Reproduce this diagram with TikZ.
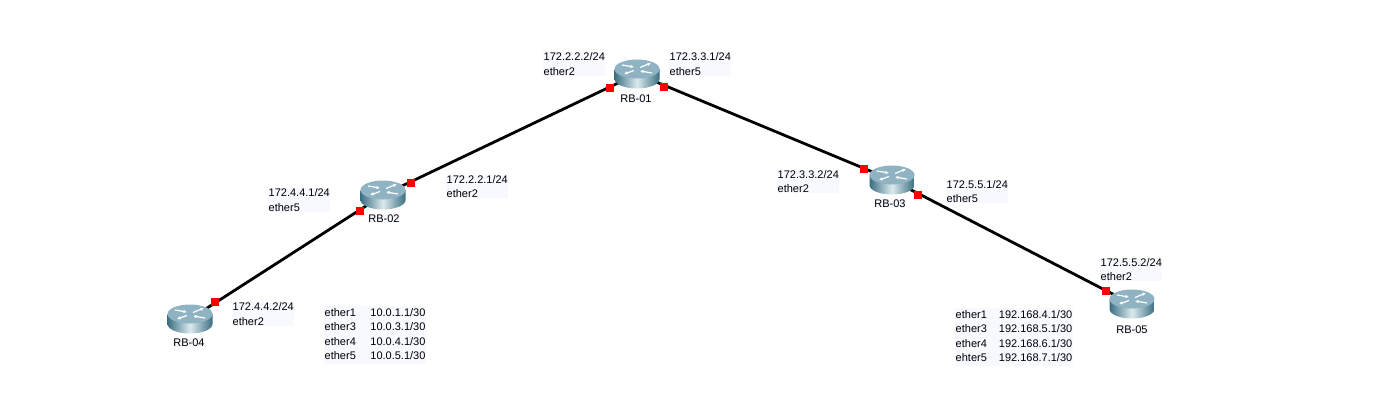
\documentclass[tikz,border=0pt]{standalone}
\usepackage{fontspec}
\setmainfont{Liberation Sans}
\usepackage{xcolor}
\usetikzlibrary{arrows.meta}
\definecolor{labelbg}{HTML}{F7F9FF}
\definecolor{routertop}{HTML}{8FB3C3}
\definecolor{routerdark}{HTML}{3A6F82}
\definecolor{routerlight}{HTML}{DCEAEE}
\tikzset{
	routerbox/.style={inner sep=0pt,minimum width=46pt,minimum height=29pt},
	port/.style={fill=red,inner sep=0pt,minimum size=7.5pt},
	link/.style={draw=black,line width=2.8pt},
	arr/.style={white,line width=1.2pt,-{Latex[length=3.5pt,width=3.5pt]}},
	addr/.style={fill=labelbg,anchor=west,align=left,inner sep=0.5pt,font=\fontsize{11}{14.4}\selectfont},
	rname/.style={fill=labelbg,inner sep=0.5pt,font=\fontsize{11}{14}\selectfont},
	pics/routericon/.style={code={
		\shade[left color=routerdark,right color=routerdark,middle color=routerlight]
			(-22.5,-5) -- (-22.5,5) arc[start angle=180,end angle=0,x radius=22.5,y radius=9.5] -- (22.5,-5) -- cycle;
		\fill[routertop] (0,-5) ellipse[x radius=22.5,y radius=9.5];
		\draw[arr] (-15,-9) -- (-3,-7);
		\draw[arr] (3,-6.5) -- (14,-11);
		\draw[arr] (-3,-3.5) -- (-13,0);
		\draw[arr] (15,-1) -- (3,-3);
	}}
}
\begin{document}
\begin{tikzpicture}[x=1pt,y=-1pt]
	\useasboundingbox (0,0) rectangle (1376,408);
	% routers
	\node[routerbox] (rb01) at (637,74) {};
	\node[routerbox] (rb02) at (383,195) {};
	\node[routerbox] (rb03) at (892,180) {};
	\node[routerbox] (rb04) at (190,319) {};
	\node[routerbox] (rb05) at (1132,304) {};
	% links
	\draw[link] (rb01.center) -- (rb02.center);
	\draw[link] (rb01.center) -- (rb03.center);
	\draw[link] (rb02.center) -- (rb04.center);
	\draw[link] (rb03.center) -- (rb05.center);
	\foreach \rname in {rb01,rb02,rb03,rb04,rb05}
		\pic at (\rname) {routericon};
	% ports
	\node[port] (p1) at (610,88) {};
	\node[port] (p2) at (664,87) {};
	\node[port] (p3) at (411,183) {};
	\node[port] (p4) at (360,211) {};
	\node[port] (p5) at (864,169) {};
	\node[port] (p6) at (918,195) {};
	\node[port] (p7) at (215,302) {};
	\node[port] (p8) at (1106,291) {};
	% names
	\node[rname] (n1) at (636,98.5) {RB-01};
	\node[rname] (n2) at (384,218.5) {RB-02};
	\node[rname] (n3) at (890,203.5) {RB-03};
	\node[rname] (n4) at (189,342.5) {RB-04};
	\node[rname] (n5) at (1132,329.5) {RB-05};
	% addresses
	\node[addr] (a1) at (543,64) {172.2.2.2/24\\ether2};
	\node[addr] (a2) at (669,64) {172.3.3.1/24\\ether5};
	\node[addr] (a3) at (446,186.5) {172.2.2.1/24\\ether2};
	\node[addr] (a4) at (268,200) {172.4.4.1/24\\ether5};
	\node[addr] (a5) at (777,181.5) {172.3.3.2/24\\ether2};
	\node[addr] (a6) at (946,191.5) {172.5.5.1/24\\ether5};
	\node[addr] (a7) at (232,314) {172.4.4.2/24\\ether2};
	\node[addr] (a8) at (1100,269.5) {172.5.5.2/24\\ether2};
	% tables
	\node[addr] (t1) at (324,335) {\begin{tabular}{@{}l@{\hspace{14.5pt}}l@{}}
		ether1 & 10.0.1.1/30\\ ether3 & 10.0.3.1/30\\ ether4 & 10.0.4.1/30\\ ether5 & 10.0.5.1/30
	\end{tabular}};
	\node[addr] (t2) at (955,337) {\begin{tabular}{@{}l@{\hspace{12pt}}l@{}}
		ether1 & 192.168.4.1/30\\ ether3 & 192.168.5.1/30\\ ether4 & 192.168.6.1/30\\ ehter5 & 192.168.7.1/30
	\end{tabular}};
\end{tikzpicture}
\end{document}
